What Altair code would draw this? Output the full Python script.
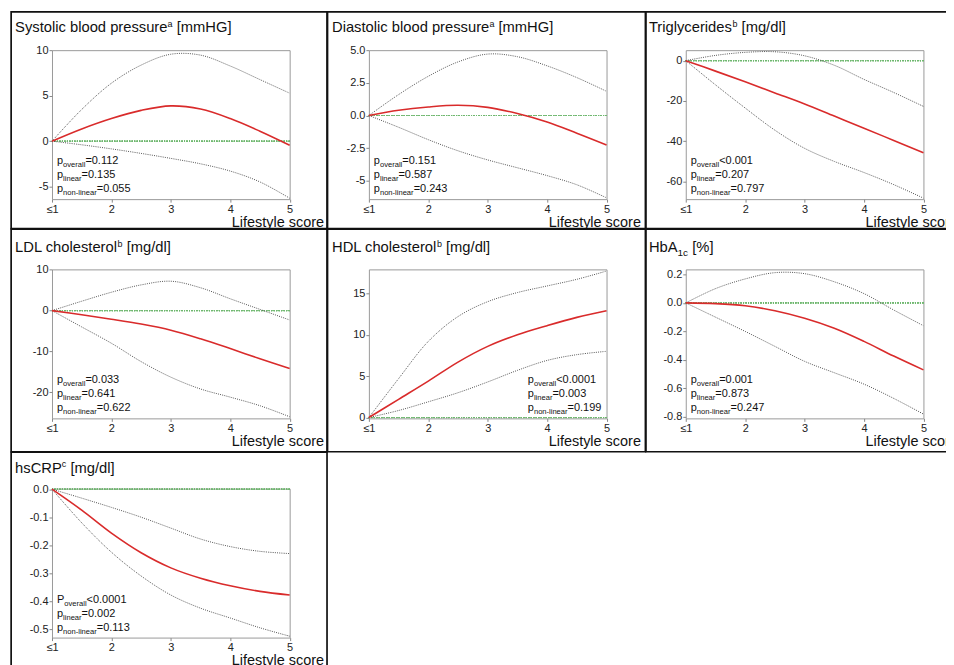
import altair as alt
import pandas as pd

# ---------------- data ----------------
scores = [1, 1.5, 2, 2.5, 3, 3.5, 4, 4.5, 5]
x_ticks = [1, 2, 3, 4, 5]
x_labels = ["≤1", "2", "3", "4", "5"]

sbp_est = [0, 1.35, 2.5, 3.4, 3.9, 3.55, 2.5, 1.1, -0.45]
sbp_hi = [0, 3.5, 6.4, 8.4, 9.6, 9.5, 8.3, 6.8, 5.3]
sbp_lo = [0, -0.4, -0.85, -1.35, -1.9, -2.5, -3.3, -4.5, -6.3]

dbp_est = [0, 0.4, 0.65, 0.78, 0.62, 0.15, -0.5, -1.35, -2.25]
dbp_hi = [0, 1.6, 3.0, 4.1, 4.7, 4.5, 3.8, 2.9, 1.85]
dbp_lo = [0, -0.9, -1.85, -2.7, -3.4, -4.0, -4.6, -5.3, -6.3]

tg_est = [0, -5.2, -10.5, -16.0, -21.5, -27.5, -33.5, -39.6, -45.7]
tg_hi = [0, 2.6, 4.1, 4.4, 2.4, -2.3, -9.3, -15.8, -22.7]
tg_lo = [0, -12.0, -23.5, -34.5, -43.5, -50.0, -55.5, -61.5, -68.2]

ldl_est = [0, -1.0, -2.1, -3.3, -4.8, -6.9, -9.3, -11.8, -14.2]
ldl_hi = [0, 2.3, 4.5, 6.3, 7.2, 5.6, 2.9, 0.3, -2.3]
ldl_lo = [0, -4.0, -8.0, -12.5, -16.3, -19.2, -21.2, -23.3, -26.0]

hdl_est = [0, 2.2, 4.4, 6.7, 8.6, 10.0, 11.1, 12.1, 12.9]
hdl_hi = [0, 4.7, 9.2, 12.2, 14.0, 15.1, 15.9, 16.7, 17.7]
hdl_lo = [0, 0.85, 1.9, 3.0, 4.3, 5.7, 6.9, 7.6, 8.0]

hba_est = [0, -0.005, -0.02, -0.055, -0.108, -0.178, -0.27, -0.373, -0.47]
hba_hi = [0, 0.1, 0.168, 0.212, 0.205, 0.148, 0.065, -0.05, -0.16]
hba_lo = [0, -0.1, -0.2, -0.305, -0.41, -0.49, -0.57, -0.67, -0.78]

crp_est = [0, -0.075, -0.157, -0.227, -0.281, -0.318, -0.345, -0.365, -0.378]
crp_hi = [0, -0.032, -0.065, -0.1, -0.139, -0.178, -0.205, -0.222, -0.23]
crp_lo = [0, -0.12, -0.225, -0.31, -0.378, -0.425, -0.46, -0.495, -0.525]

y_domains = [[-6.4, 10.05], [-6.4, 5.0], [-68.7, 5.2], [-26.4, 10.1],
             [-0.1, 17.9], [-0.81, 0.235], [-0.53, 0.002]]
y_tick_values = [[-5, 0, 5, 10], [-5, -2.5, 0, 2.5, 5], [-60, -40, -20, 0],
                 [-20, -10, 0, 10], [0, 5, 10, 15],
                 [-0.8, -0.6, -0.4, -0.2, 0, 0.2],
                 [-0.5, -0.4, -0.3, -0.2, -0.1, 0]]
y_tick_labels = [["-5", "0", "5", "10"], ["-5", "-2.5", "0.0", "2.5", "5.0"],
                 ["-60", "-40", "-20", "0"], ["-20", "-10", "0", "10"],
                 ["0", "5", "10", "15"],
                 ["-0.8", "-0.6", "-0.4", "-0.2", "0.0", "0.2"],
                 ["-0.5", "-0.4", "-0.3", "-0.2", "-0.1", "0.0"]]

titles = [
    [("Systolic blood pressure", "n"), ("a", "sup"), (" [mmHG]", "n")],
    [("Diastolic blood pressure", "n"), ("a", "sup"), (" [mmHG]", "n")],
    [("Triglycerides", "n"), ("b", "sup"), (" [mg/dl]", "n")],
    [("LDL cholesterol", "n"), ("b", "sup"), (" [mg/dl]", "n")],
    [("HDL cholesterol", "n"), ("b", "sup"), (" [mg/dl]", "n")],
    [("HbA", "n"), ("1c", "tsub"), (" [%]", "n")],
    [("hsCRP", "n"), ("c", "sup"), (" [mg/dl]", "n")],
]
p_letters = [["p", "p", "p"]] * 6 + [["P", "p", "p"]]
p_subs = ["overall", "linear", "non-linear"]
p_values = [
    ["=0.112", "=0.135", "=0.055"],
    ["=0.151", "=0.587", "=0.243"],
    ["<0.001", "=0.207", "=0.797"],
    ["=0.033", "=0.641", "=0.622"],
    ["<0.0001", "=0.003", "=0.199"],
    ["=0.001", "=0.873", "=0.247"],
    ["<0.0001", "=0.002", "=0.113"],
]
x_title = "Lifestyle score"

# ---------------- styling / layout ----------------
FONT = "Liberation Sans"
RED = "#d92b2b"
GREY = "#555555"
GREEN = "#6fb86f"
W, H = 238.5, 149.5
COL_SPACING, ROW_SPACING = 79, 70
# cell borders relative to each plot origin (left, right) per column, (top, bottom) per row
col_borders = [(-41, 276), (-41.5, 277.5), (-40, 276)]
row_borders = [(-38.5, 179), (-40.5, 183), (-36.5, 184.5)]
title_baseline = [-17.8, -17, -15.8]
p_x = [5, 5, 5, 5, 159.5, 5, 5]
BORDER_W = 1.7

ARIAL = {" ": 278, "[": 278, "]": 278, "%": 889, "/": 278, "=": 584, "<": 584,
         ".": 278, "-": 333, "0": 556, "1": 556, "2": 556, "3": 556, "4": 556,
         "5": 556, "6": 556, "7": 556, "8": 556, "9": 556,
         "a": 556, "b": 556, "c": 500, "d": 556, "e": 556, "f": 278, "g": 556,
         "h": 556, "i": 222, "j": 222, "k": 500, "l": 222, "m": 833, "n": 556,
         "o": 556, "p": 556, "q": 556, "r": 333, "s": 500, "t": 278, "u": 556,
         "v": 500, "w": 722, "x": 500, "y": 500, "z": 500,
         "A": 667, "B": 667, "C": 722, "D": 722, "E": 667, "G": 778, "H": 722,
         "L": 556, "P": 667, "R": 722, "S": 667, "T": 611}


def text_width(s, size):
    return sum(ARIAL.get(ch, 556) for ch in s) * size / 1000.0


STYLE = {"n": (None, 0), "sup": (9, -5.5), "sub": (7.6, 3), "tsub": (10, 4)}


def run_rows(parts, x0, y0, base):
    rows = []
    x = x0
    for text, kind in parts:
        fs, dy = STYLE[kind]
        fs = fs or base
        lead = len(text) - len(text.lstrip(" "))
        x += text_width(" " * lead, fs)
        t = text.strip(" ")
        rows.append({"text": t, "px": round(x, 2), "py": y0 + dy, "fs": fs})
        x += text_width(t, fs)
    return rows


def lab_expr(vals, labs):
    expr = "''"
    for v, l in reversed(list(zip(vals, labs))):
        expr = f"abs(datum.value - ({v})) < 1e-9 ? '{l}' : {expr}"
    return expr


series = [(sbp_est, sbp_lo, sbp_hi), (dbp_est, dbp_lo, dbp_hi), (tg_est, tg_lo, tg_hi),
          (ldl_est, ldl_lo, ldl_hi), (hdl_est, hdl_lo, hdl_hi), (hba_est, hba_lo, hba_hi),
          (crp_est, crp_lo, crp_hi)]


def panel(i):
    est, lo, hi = series[i]
    row, col = divmod(i, 3)
    df = pd.DataFrame({"score": scores, "est": est, "lo": lo, "hi": hi})

    xaxis = alt.Axis(values=x_ticks, labelExpr=lab_expr(x_ticks, x_labels),
                     title=x_title, titleX=272.5, titleY=27.5, titleAlign="right",
                     titleAnchor="end", titleBaseline="alphabetic", labelFlush=False,
                     labelPadding=1)
    xenc = alt.X("score:Q", scale=alt.Scale(domain=[1, 5], nice=False, zero=False), axis=xaxis)
    yscale = alt.Scale(domain=y_domains[i], nice=False, zero=False)
    yaxis = alt.Axis(values=y_tick_values[i],
                     labelExpr=lab_expr(y_tick_values[i], y_tick_labels[i]),
                     title=None, labelFlush=False, labelPadding=1)

    def yenc(f):
        return alt.Y(f + ":Q", scale=yscale, axis=yaxis)

    base = alt.Chart(df)
    zero = base.mark_rule(color=GREEN, strokeDash=[1, 1.5], strokeWidth=1).encode(
        y=alt.YDatum(0, scale=yscale, axis=yaxis))
    hi_l = base.mark_line(color=GREY, strokeDash=[1, 1.2], strokeWidth=1,
                          interpolate="catmull-rom").encode(x=xenc, y=yenc("hi"))
    lo_l = base.mark_line(color=GREY, strokeDash=[1, 1.2], strokeWidth=1,
                          interpolate="catmull-rom").encode(x=xenc, y=yenc("lo"))
    est_l = base.mark_line(color=RED, strokeWidth=1.6,
                           interpolate="catmull-rom").encode(x=xenc, y=yenc("est"))

    rows = run_rows(titles[i], -37, title_baseline[row], 14.8)
    for k in range(3):
        parts = [(p_letters[i][k], "n"), (p_subs[k], "sub"), (p_values[i][k], "n")]
        rows += run_rows(parts, p_x[i], H - 35 + 14 * k, 11)
    txt = alt.Chart(alt.Data(values=rows)).mark_text(
        align="left", baseline="alphabetic", color="#111", font=FONT).encode(
        x=alt.X("px:Q", scale=None, axis=None),
        y=alt.Y("py:Q", scale=None, axis=None),
        size=alt.Size("fs:Q", scale=None, legend=None),
        text="text:N")

    bx0, bx1 = col_borders[col]
    by0, by1 = row_borders[row]
    border = alt.Chart(alt.Data(values=[{"k": 1}])).mark_rect(
        filled=False, stroke="#111", strokeWidth=BORDER_W).encode(
        x=alt.value(bx0), x2=alt.value(bx1), y=alt.value(by0), y2=alt.value(by1))

    return alt.layer(border, zero, hi_l, lo_l, est_l, txt).properties(width=W, height=H)


half = BORDER_W / 2
chart = alt.concat(*[panel(i) for i in range(7)], columns=3,
                   spacing={"row": ROW_SPACING, "column": COL_SPACING},
                   bounds="flush", align="all").properties(
    # crop the page at the window edge like the reference (which is cut off on the right/bottom)
    padding={"left": 2 - half, "top": 2 - half, "right": -16.75 - (half - 0.75),
             "bottom": -7.75 - (half - 0.75)}
).configure(font=FONT).configure_view(
    stroke="#9a9a9a", strokeWidth=1
).configure_axis(
    domain=False, grid=False, ticks=True, tickColor="#888", tickSize=3,
    labelFontSize=11, labelColor="#222", labelFont=FONT,
    titleFont=FONT, titleFontSize=14.5, titleFontWeight="normal", titleColor="#111"
)

chart.save("out.html", embed_options={"renderer": "svg", "actions": False})
